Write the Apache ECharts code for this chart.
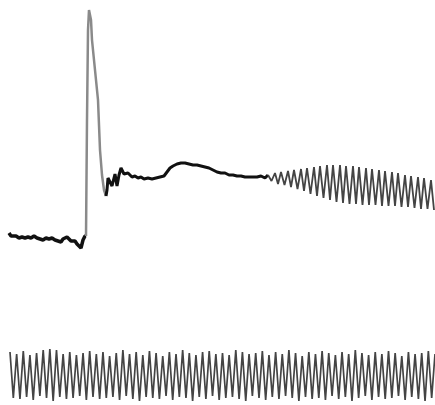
<!DOCTYPE html>
<html>
<head>
<meta charset="utf-8">
<script src="https://cdn.jsdelivr.net/npm/echarts@6/dist/echarts.min.js"></script>
<style>
html,body{margin:0;padding:0;background:#fff;}
#chart{width:435px;height:405px;}
</style>
</head>
<body>
<div id="chart"></div>
<script>
// Top trace (time units, deflection units; larger deflection = lower on the record)
var baseT = [9,11,13,16,19,22,25,28,31,34,37,40,43,46,49,52,55,58,61,63,65,67,69,71,73,75,77,79,81,83,85,86];
var baseV = [233,236,237,236,238,237,238,237,238,236,238,239,240,238,239,238,240,241,242,239,238,237,239,241,243,241,244,246,248,240,236,236];

var spikeT = [86,87,88,89,90,91,92,94,96,98,100,102,104,106];
var spikeV = [236,120,30,10,8,20,40,60,80,100,150,175,190,196];

var plateauT = [106,107,108,110,112,114,115,117,119,121,122,124,126,128,130,132,135,138,141,144,148,152,156,160,164,167,170,173,177,181,185,189,193,197,201,205,209,213,217,221,225,229,233,237,241,245,249,253,257,261,265,268];
var plateauV = [196,190,178,182,186,178,174,186,175,168,167,174,176,173,174,177,176,178,177,179,178,179,178,177,176,172,168,166,164,163,163,164,165,165,166,167,168,170,172,173,173,175,175,176,176,177,177,177,177,176,178,175];

var oscT = [268,271.5,275,278,281,284.5,288,291,294,297.5,301,304,307,310.5,314,317,320,323.5,327,330,333,336.5,340,343,346,349.5,353,356,359,362.5,366,369,372,375.5,379,382,385,388.5,392,395,398,401.5,405,408,411,414.5,418,421,424,427.5,431,434];
var oscV = [175,181,173,184,172,185,171,187,170,189,169,191,168,194,167,196,166,198,165,200,165,202,165,203,166,204,166,204,167,205,168,205,169,205,170,206,171,206,172,206,173,207,175,207,176,208,177,209,178,209,180,210];

// Bottom trace: evenly spaced samples
var bottomV = [
352,398,354,399,351,397,355,400,353,396,
350,398,349,401,350,397,354,399,352,398,
355,396,353,400,351,397,354,399,352,398,
356,397,353,400,350,396,354,399,352,401,
355,397,351,398,353,399,356,396,352,400,
354,397,350,398,353,401,355,397,352,399,
351,396,354,400,353,398,355,397,350,399,
352,401,354,396,353,398,351,400,355,397,
352,399,354,396,350,398,353,401,356,397,
352,399,354,398,351,400,353,396,355,399,
352,397,354,401,350,398,353,396,355,400,
352,397,354,399,351,398,353,396,356,400,
352,397,354,399,353,401,351,398,354
];
var bottomIdx = bottomV.map(function(_, i){ return i; });

function pairs(t, v){ return t.map(function(x, i){ return [x, v[i]]; }); }

var chart = echarts.init(document.getElementById('chart'), null, {renderer:'canvas'});
chart.setOption({
  animation: false,
  backgroundColor: '#ffffff',
  grid: [
    {left:0, right:0, top:0, bottom:0},
    {left:10, right:0, top:0, bottom:0}
  ],
  xAxis: [
    {type:'value', gridIndex:0, min:0, max:435, show:false},
    {type:'category', gridIndex:1, data:bottomIdx, boundaryGap:false, show:false}
  ],
  yAxis: [
    {type:'value', gridIndex:0, min:0, max:405, inverse:true, show:false},
    {type:'value', gridIndex:1, min:0, max:405, inverse:true, show:false}
  ],
  series: [
    {type:'line', xAxisIndex:0, yAxisIndex:0, data:pairs(baseT, baseV), showSymbol:false,
     lineStyle:{color:'#111', width:3.5}},
    {type:'line', xAxisIndex:0, yAxisIndex:0, data:pairs(spikeT, spikeV), showSymbol:false,
     lineStyle:{color:'#8a8a8a', width:2.5}},
    {type:'line', xAxisIndex:0, yAxisIndex:0, data:pairs(plateauT, plateauV), showSymbol:false,
     lineStyle:{color:'#111', width:3}},
    {type:'line', xAxisIndex:0, yAxisIndex:0, data:pairs(oscT, oscV), showSymbol:false,
     lineStyle:{color:'#444', width:1.8}},
    {type:'line', xAxisIndex:1, yAxisIndex:1, data:bottomV, showSymbol:false,
     lineStyle:{color:'#444', width:1.7}}
  ]
});
</script>
</body>
</html>
